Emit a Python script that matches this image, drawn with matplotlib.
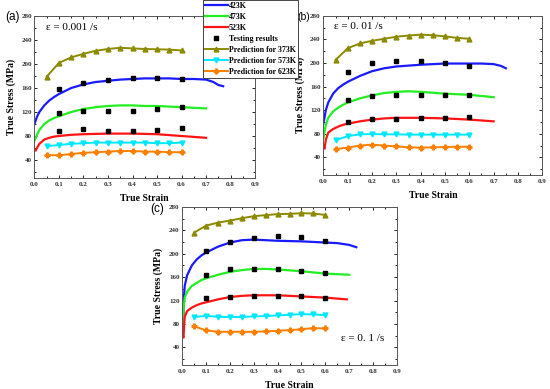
import matplotlib
matplotlib.use("Agg")
import matplotlib.pyplot as plt
from matplotlib.ticker import MultipleLocator
from matplotlib.lines import Line2D

# ---------------- data ----------------
pred_strain = [0.05, 0.10, 0.15, 0.20, 0.25, 0.30, 0.35, 0.40, 0.45, 0.50, 0.55, 0.60]
test_strain = [0.1, 0.2, 0.3, 0.4, 0.5, 0.6]

# panel (a) 0.001/s
a_373 = [179, 202, 211, 217, 222, 225, 227, 226, 225, 224.5, 224, 222.5]
a_573 = [63, 65, 67, 68, 69, 69, 69, 69, 69, 68, 68, 69]
a_623 = [48, 48, 50, 52, 53, 54, 55, 55, 54, 54, 53, 53]
a_423_x = [0.0, 0.01, 0.02, 0.04, 0.06, 0.08, 0.1, 0.15, 0.2, 0.25, 0.3, 0.35, 0.4, 0.45, 0.5, 0.55, 0.6, 0.65, 0.7, 0.73, 0.75, 0.77]
a_423_y = [100, 112, 120, 131, 139, 145, 150, 160, 166, 170, 172, 174, 175, 176, 176, 176, 175, 175, 174, 170, 165, 163]
a_473_x = [0.0, 0.01, 0.02, 0.04, 0.06, 0.08, 0.1, 0.15, 0.2, 0.25, 0.3, 0.35, 0.4, 0.45, 0.5, 0.55, 0.6, 0.65, 0.7]
a_473_y = [72, 82, 90, 100, 106, 110, 113, 120, 125, 128, 130, 131, 131, 130, 130, 129, 128, 127, 126]
a_523_x = [0.005, 0.01, 0.02, 0.04, 0.06, 0.08, 0.1, 0.15, 0.2, 0.3, 0.4, 0.5, 0.6, 0.7]
a_523_y = [56, 60, 67, 74, 77, 79, 80, 82, 83, 84, 84, 83, 80, 77]
a_test_423 = [158, 169, 173, 176, 176, 175]
a_test_473 = [118, 121, 121, 122, 125, 129]
a_test_523 = [88, 91, 89, 88, 90, 94]

# panel (b) 0.01/s
b_373 = [205, 225, 233, 237.5, 241, 244.5, 246.5, 248, 247, 245, 242.5, 241]
b_573 = [69, 76, 79, 79.5, 79, 79, 78.5, 78.5, 78.5, 78.5, 78.5, 78.5]
b_623 = [54, 56.5, 60, 61.5, 60, 58.5, 57, 56.5, 57, 57.5, 58, 58]
b_423_x = [0.0, 0.01, 0.02, 0.04, 0.06, 0.08, 0.1, 0.15, 0.2, 0.25, 0.3, 0.4, 0.5, 0.6, 0.65, 0.7, 0.73, 0.75]
b_423_y = [97, 120, 133, 148, 157, 163, 168, 178, 186, 191, 194, 197, 199, 199, 199, 198, 195, 191]
b_473_x = [0.0, 0.01, 0.02, 0.04, 0.06, 0.08, 0.1, 0.15, 0.2, 0.25, 0.3, 0.35, 0.4, 0.5, 0.6, 0.7]
b_473_y = [72, 95, 107, 118, 124, 129, 133, 140, 145, 149, 151, 152, 151, 148, 146, 142]
b_523_x = [0.005, 0.01, 0.02, 0.04, 0.06, 0.08, 0.1, 0.15, 0.2, 0.25, 0.3, 0.4, 0.5, 0.6, 0.7]
b_523_y = [55, 70, 82, 88, 92, 95, 97, 101, 104, 106, 107, 107, 106, 104, 101]
b_test_423 = [184.5, 200, 203, 203, 200, 195]
b_test_473 = [138, 144.5, 145.5, 146.5, 146.5, 146.5]
b_test_523 = [100, 104.5, 105, 106, 106.5, 108]

# panel (c) 0.1/s
c_373 = [236, 248, 253, 256.5, 260.5, 264, 265.8, 267.5, 268, 269, 268.6, 266]
c_573 = [91.7, 94, 92.3, 91.7, 92, 92.9, 93.5, 94.6, 95.7, 96.8, 96.3, 95]
c_623 = [76, 69, 66.7, 66.7, 66.7, 66.7, 67.3, 68.4, 69.5, 71, 73, 72.4]
c_423_x = [0.003, 0.006, 0.01, 0.02, 0.04, 0.06, 0.08, 0.1, 0.15, 0.2, 0.25, 0.3, 0.4, 0.5, 0.6, 0.65, 0.7, 0.73]
c_423_y = [75, 120, 145, 163, 180, 190, 197, 202, 212, 219, 223, 224, 222, 221, 219, 218, 215, 211]
c_473_x = [0.003, 0.006, 0.01, 0.02, 0.04, 0.06, 0.08, 0.1, 0.15, 0.2, 0.25, 0.3, 0.35, 0.4, 0.5, 0.6, 0.7]
c_473_y = [75, 110, 125, 135, 145, 150, 155, 158, 164, 169, 172, 174, 174, 173, 170, 166, 164]
c_523_x = [0.005, 0.008, 0.01, 0.02, 0.04, 0.06, 0.08, 0.1, 0.15, 0.2, 0.25, 0.3, 0.4, 0.5, 0.6, 0.69]
c_523_y = [57, 80, 92, 102, 108, 112, 115, 117, 122, 126, 128, 129, 129, 127, 125, 122]
c_test_423 = [204, 220, 227.5, 230, 228, 222]
c_test_473 = [163, 173, 174, 173.5, 171, 167]
c_test_523 = [125, 126, 127, 128, 127, 123.5]

legend_labels = ["423K", "473K", "523K", "Testing results",
                 "Prediction for 373K", "Prediction for 573K", "Prediction for 623K"]
x_ticks = [0.0, 0.1, 0.2, 0.3, 0.4, 0.5, 0.6, 0.7, 0.8, 0.9]
y_ticks = [40, 80, 120, 160, 200, 240, 280]

# --------------- style ----------------
C_BLUE = "#1a1aff"
C_GREEN = "#22ee22"
C_RED = "#ff1414"
C_OLIVE = "#8c8a00"
C_CYAN = "#00e8ff"
C_ORANGE = "#ff8000"
SERIF = ["Liberation Serif", "DejaVu Serif"]

fig = plt.figure(figsize=(5.5, 3.89), dpi=100)

panels = [
    dict(pos=[0.0627, 0.5424, 0.401, 0.4165],
         s373=a_373, s573=a_573, s623=a_623,
         l423=(a_423_x, a_423_y), l473=(a_473_x, a_473_y), l523=(a_523_x, a_523_y),
         t=(a_test_423, a_test_473, a_test_523)),
    dict(pos=[0.588, 0.550, 0.398, 0.4095],
         s373=b_373, s573=b_573, s623=b_623,
         l423=(b_423_x, b_423_y), l473=(b_473_x, b_473_y), l523=(b_523_x, b_523_y),
         t=(b_test_423, b_test_473, b_test_523)),
    dict(pos=[0.3315, 0.0617, 0.390, 0.4067],
         s373=c_373, s573=c_573, s623=c_623,
         l423=(c_423_x, c_423_y), l473=(c_473_x, c_473_y), l523=(c_523_x, c_523_y),
         t=(c_test_423, c_test_473, c_test_523)),
]

axes = []
for p in panels:
    ax = fig.add_axes(p["pos"])
    axes.append(ax)
    ax.plot(*p["l423"], color=C_BLUE, lw=1.6, zorder=2)
    ax.plot(*p["l473"], color=C_GREEN, lw=1.6, zorder=2)
    ax.plot(*p["l523"], color=C_RED, lw=1.6, zorder=2)
    ax.plot(pred_strain, p["s373"], color=C_OLIVE, lw=1.4, marker="^", ms=3.5, zorder=3)
    ax.plot(pred_strain, p["s573"], color=C_CYAN, lw=1.4, marker="v", ms=3.5, zorder=3)
    ax.plot(pred_strain, p["s623"], color=C_ORANGE, lw=1.4, marker="P", ms=3.5, zorder=3)
    for t in p["t"]:
        ax.plot(test_strain, t, ls="none", marker="s", color="black", ms=3.2, zorder=4)
    ax.set_xlim(0, 0.9)
    ax.set_ylim(10, 280)
    ax.set_xticks(x_ticks)
    ax.set_yticks(y_ticks)
    ax.set_xticklabels([f"{v:.1f}" for v in x_ticks])
    ax.xaxis.set_minor_locator(MultipleLocator(0.05))
    ax.yaxis.set_minor_locator(MultipleLocator(20))
    ax.tick_params(which="both", direction="in", top=True, right=True, width=0.6)
    ax.tick_params(which="major", length=2.5, labelsize=5)
    ax.tick_params(axis="x", which="major", pad=3)
    ax.tick_params(axis="y", which="major", pad=2)
    ax.tick_params(which="minor", length=1.5)
    for lab in ax.get_xticklabels() + ax.get_yticklabels():
        lab.set_family(SERIF)
        lab.set_fontweight("bold")
        lab.set_color("#333333")
    for s in ax.spines.values():
        s.set_linewidth(0.7)
        s.set_color("#555555")
    ax.set_xlabel("True Strain", family=SERIF, fontweight="bold", fontsize=7, labelpad=5)
    ax.set_ylabel("True Stress (MPa)", family=SERIF, fontweight="bold", fontsize=7, labelpad=4)

# strain rate annotations
axes[0].text(0.05, 0.93, "ε = 0.001 /s", transform=axes[0].transAxes, family=SERIF, fontsize=8, va="center")
axes[1].text(0.05, 0.93, "ε = 0. 01 /s", transform=axes[1].transAxes, family=SERIF, fontsize=8, va="center")
axes[2].text(0.74, 0.165, "ε = 0. 1 /s", transform=axes[2].transAxes, family=SERIF, fontsize=8, va="center")

# panel letters
fig.text(5 / 550, 1 - 17 / 389, "(a)", fontsize=8.5, family=["Liberation Sans", "DejaVu Sans"], va="center")
fig.text(297.5 / 550, 1 - 17 / 389, "(b)", fontsize=7.5, family=["Liberation Sans", "DejaVu Sans"], va="center")
fig.text(150 / 550, 1 - 209 / 389, "(c)", fontsize=8.5, family=["Liberation Sans", "DejaVu Sans"], va="center")

# legend
handles = [
    Line2D([], [], color=C_BLUE, lw=1.6),
    Line2D([], [], color=C_GREEN, lw=1.6),
    Line2D([], [], color=C_RED, lw=1.6),
    Line2D([], [], color="black", ls="none", marker="s", ms=3.2),
    Line2D([], [], color=C_OLIVE, lw=1.4, marker="^", ms=3.5),
    Line2D([], [], color=C_CYAN, lw=1.4, marker="v", ms=3.5),
    Line2D([], [], color=C_ORANGE, lw=1.4, marker="P", ms=3.5),
]
leg = fig.legend(handles, legend_labels, loc="upper left", bbox_to_anchor=(203 / 550, 1.0),
                 prop={"family": SERIF, "weight": "bold", "size": 5.7},
                 frameon=True, fancybox=False, edgecolor="#444444", framealpha=1,
                 handlelength=2.9, handletextpad=0.1, labelspacing=0.38,
                 borderpad=0.25, borderaxespad=0.0)
leg.get_frame().set_linewidth(0.7)

fig.savefig("out.png", dpi=100)
